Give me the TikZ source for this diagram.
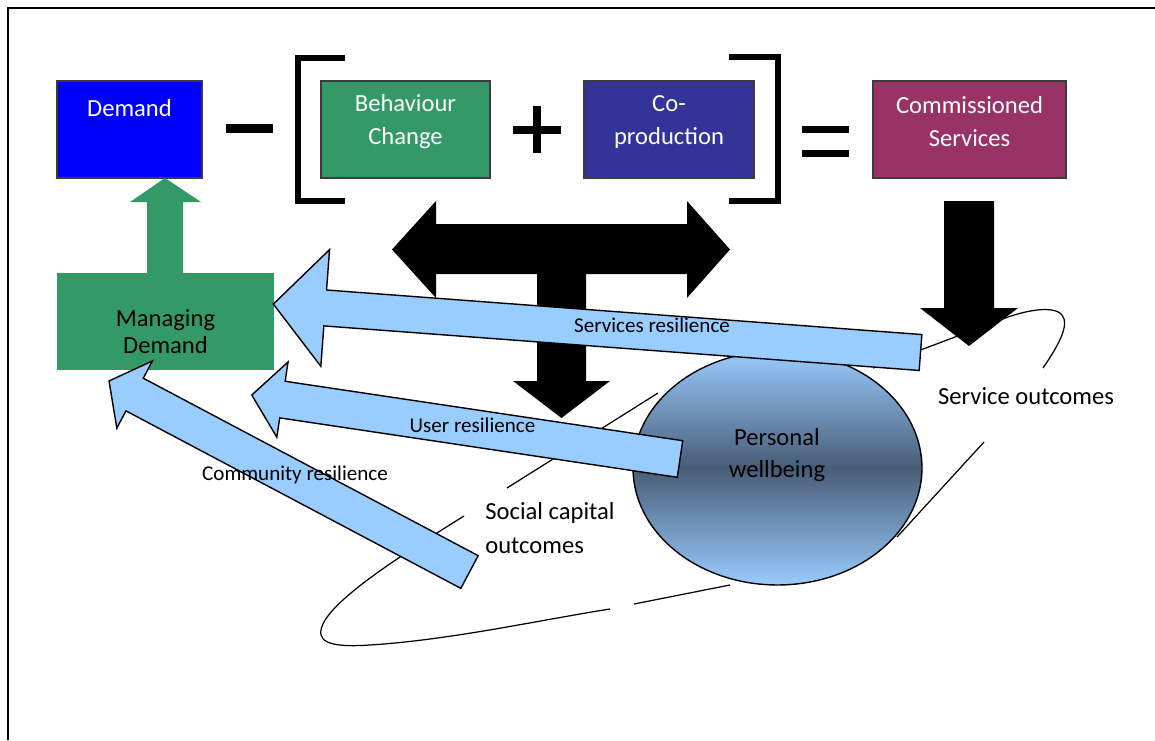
\documentclass[tikz,border=0pt]{standalone}
\usepackage{fontspec}
\setmainfont{Carlito}
\usetikzlibrary{shapes.geometric}

\definecolor{demandblue}{RGB}{0,0,255}
\definecolor{changegreen}{RGB}{51,153,102}
\definecolor{coprodblue}{RGB}{51,51,153}
\definecolor{commplum}{RGB}{153,51,102}
\definecolor{resblue}{RGB}{153,204,255}
\definecolor{wbdark}{RGB}{72,92,118}
\definecolor{boxline}{RGB}{60,60,60}

\begin{document}
\begin{tikzpicture}[x=0.02cm,y=-0.02cm,
        box/.style={draw=boxline,line width=0.8pt,minimum height=1.94cm,inner sep=0pt},
        boxtext/.style={text=white,font=\fontsize{14}{18.8}\selectfont,align=center},
        plaintext/.style={font=\fontsize{14}{18.8}\selectfont,align=center},
        restext/.style={font=\fontsize{12}{14}\selectfont,inner sep=0pt},
        resarrow/.style={draw=black,line width=0.8pt,fill=resblue},
        loop/.style={line width=0.7pt},
        oper/.style={line width=#1},
        bracket/.style={line width=0.12cm}]

  \useasboundingbox (0,0) rectangle (1155,740);
  \draw[line width=1.1pt] (8,740) -- (8,8) -- (1155,8);

  \draw[loop] (658,393) -- (507,488);
  \draw[loop] (464,516) .. controls (390,562) and (325,605) .. (321,630)
                        .. controls (318,645) and (340,647) .. (370,645)
                        .. controls (450,640) and (540,620) .. (610,609);
  \draw[loop] (634,604) -- (730,585);
  \draw[loop] (897,537) -- (984,442);
  \draw[loop] (1043,368) .. controls (1058,346) and (1070,325) .. (1062,315)
                         .. controls (1054,305) and (1025,310) .. (1000,320) -- (873,368);

  \node[box,fill=demandblue,minimum width=2.9cm] (demand) at (129.5,129.5) {};
  \node[box,fill=changegreen,minimum width=3.38cm] (change) at (405.5,129.5) {};
  \node[box,fill=coprodblue,minimum width=3.4cm] (coprod) at (669,129.5) {};
  \node[box,fill=commplum,minimum width=3.86cm] (commissioned) at (969.5,129.5) {};
  \node[fill=changegreen,minimum width=4.34cm,minimum height=1.94cm,inner sep=0pt] (managing) at (165.5,321.5) {};

  \node[boxtext] (demandtxt) at (129.5,108.5) {Demand};
  \node[boxtext] (changetxt) at (405.5,122) {Behaviour\\Change};
  \node[boxtext] (coprodtxt) at (669,122) {Co-\\production};
  \node[boxtext] (commtxt) at (969.5,122) {Commissioned\\Services};
  \node[plaintext,font=\fontsize{14}{15.4}\selectfont] (managingtxt) at (165.5,332) {Managing\\Demand};

  \draw[oper=0.18cm] (226,128.5) -- (273,128.5);
  \draw[oper=0.16cm] (513,130) -- (561,130) (537,106) -- (537,153);
  \draw[oper=0.14cm] (802,129.5) -- (849,129.5) (802,153.5) -- (849,153.5);
  \draw[bracket] (345,58) -- (297.5,58) -- (297.5,201) -- (345,201);
  \draw[bracket] (729,57.5) -- (777.5,57.5) -- (777.5,200.5) -- (729,200.5);

  \fill[changegreen] (147,273) -- (147,202) -- (130,202) -- (165,178)
                     -- (201,202) -- (183,202) -- (183,273) -- cycle;
  \fill (944,201) -- (994,201) -- (994,308) -- (1018,308) -- (969,346)
        -- (920,308) -- (944,308) -- cycle;
  \fill (392,249.5) -- (436,201) -- (436,224) -- (687,224) -- (687,201)
        -- (730,249.5) -- (687,298) -- (687,274) -- (586,274) -- (586,381)
        -- (610,381) -- (561.5,418) -- (513,381) -- (537,381) -- (537,274)
        -- (436,274) -- (436,298) -- cycle;

  \node[ellipse,draw,line width=0.8pt,minimum width=5.78cm,minimum height=4.68cm,
        top color=resblue,bottom color=resblue,middle color=wbdark] (wellbeing) at (777.5,468) {};
  \node[plaintext,font=\fontsize{14}{18.3}\selectfont] (wellbeingtxt) at (777,455) {Personal\\wellbeing};
  \node[plaintext,align=left,anchor=west,inner sep=0pt,font=\fontsize{14}{19.4}\selectfont] (socialtxt) at (485,528) {Social capital\\outcomes};
  \node[plaintext] (servicetxt) at (1026,396) {Service outcomes};

  \coordinate (srtail) at (920.5,352.5);
  \coordinate (urtail) at (680,459);
  \coordinate (crtail) at (469.5,572);
  \begin{scope}[shift={(srtail)},rotate=175.72]
    \draw[resarrow] (0,-18) -- (597,-18) -- (597,-58.5) -- (649,0) -- (597,58.5) -- (597,18) -- (0,18) -- cycle;
  \end{scope}
  \begin{scope}[shift={(urtail)},rotate=171.5]
    \draw[resarrow] (0,-18.5) -- (402,-18.5) -- (402,-38) -- (433,0) -- (402,38) -- (402,18.5) -- (0,18.5) -- cycle;
  \end{scope}
  \begin{scope}[shift={(crtail)},rotate=152.08]
    \draw[resarrow] (0,-18.5) -- (379,-18.5) -- (379,-38) -- (408,0) -- (379,38) -- (379,18.5) -- (0,18.5) -- cycle;
  \end{scope}

  \node[restext] (srtxt) at (652,325) {Services resilience};
  \node[restext] (urtxt) at (472.5,425.5) {User resilience};
  \node[restext] (crtxt) at (295,475) {Community resilience};

\end{tikzpicture}
\end{document}
